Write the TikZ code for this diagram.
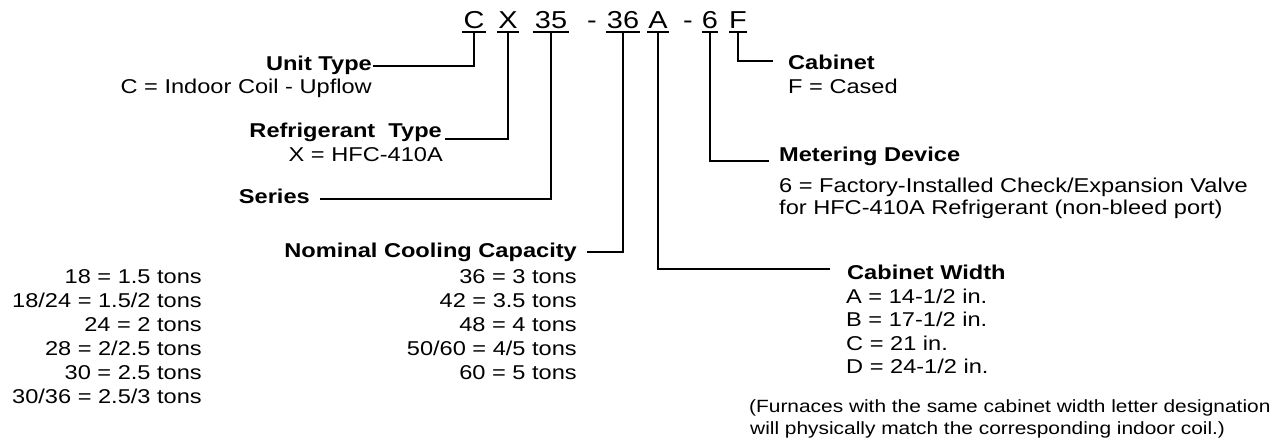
\documentclass[tikz,border=0pt]{standalone}
\usepackage{fontspec}
\setmainfont{Liberation Sans}[FakeStretch=1.18]
\begin{document}
\begin{tikzpicture}[x=1pt,y=-1pt,
  lbl/.style={font=\bfseries\fontsize{20}{24}\selectfont, inner sep=0pt},
  txt/.style={font=\fontsize{20}{24}\selectfont, inner sep=0pt},
  note/.style={font=\fontsize{17.7}{22}\selectfont, inner sep=0pt},
  code/.style={font=\fontsize{24.5}{29}\selectfont, inner sep=0pt, anchor=base, text depth=3pt},
  conn/.style={line width=1.6pt},
  uline/.style={line width=1.5pt}]
\useasboundingbox (0,0) rectangle (1277,441);
% code letters
\node[code, minimum width=23pt] (cC) at (474,29) {C};
\node[code, minimum width=22pt] (cX) at (508,29) {X};
\node[code, minimum width=36pt] (c35) at (551,29) {35};
\node[code] (h1) at (592,29) {-};
\node[code, minimum width=33pt] (c36) at (623,29) {36};
\node[code, minimum width=21pt] (cA) at (658,29) {A};
\node[code] (h2) at (688,29) {-};
\node[code, minimum width=16pt] (c6) at (710,29) {6};
\node[code, minimum width=18pt] (cF) at (738,29) {F};
\foreach \n in {cC,cX,c35,c36,cA,c6,cF}
  \draw[uline] (\n.south west) -- (\n.south east);
% Unit type
\node[lbl, anchor=base east] (ut) at (372,71) {Unit Type};
\node[txt, anchor=base east] (utd) at (372,94) {C = Indoor Coil - Upflow};
\coordinate (utE) at (373,66);
\draw[conn] (cC.south) |- (utE);
% Refrigerant type
\node[lbl, anchor=base east] (rt) at (442,138) {Refrigerant\ \ Type};
\node[txt, anchor=base east] (rtd) at (443,161) {X = HFC-410A};
\coordinate (rtE) at (445,139);
\draw[conn] (cX.south) |- (rtE);
% Series
\node[lbl, anchor=base east] (sr) at (310,203) {Series};
\coordinate (srE) at (320,199);
\draw[conn] (c35.south) |- (srE);
% Nominal cooling capacity
\node[lbl, anchor=base east] (ncc) at (577,257) {Nominal Cooling Capacity};
\coordinate (nccE) at (587,252);
\draw[conn] (c36.south) |- (nccE);
\node[txt, anchor=base east] (n1) at (577,283) {36 = 3 tons};
\node[txt, anchor=base east] (n2) at (577,307) {42 = 3.5 tons};
\node[txt, anchor=base east] (n3) at (577,331) {48 = 4 tons};
\node[txt, anchor=base east] (n4) at (577,355) {50/60 = 4/5 tons};
\node[txt, anchor=base east] (n5) at (577,379) {60 = 5 tons};
% left list
\node[txt, anchor=base east] (l1) at (202,283) {18 = 1.5 tons};
\node[txt, anchor=base east] (l2) at (202,307) {18/24 = 1.5/2 tons};
\node[txt, anchor=base east] (l3) at (202,331) {24 = 2 tons};
\node[txt, anchor=base east] (l4) at (202,355) {28 = 2/2.5 tons};
\node[txt, anchor=base east] (l5) at (202,379) {30 = 2.5 tons};
\node[txt, anchor=base east] (l6) at (202,403) {30/36 = 2.5/3 tons};
% Cabinet width
\coordinate (cwW) at (830,269);
\draw[conn] (cA.south) |- (cwW);
\node[lbl, anchor=base west] (cw) at (847,279) {Cabinet Width};
\node[txt, anchor=base west] (w1) at (846,303) {A = 14-1/2 in.};
\node[txt, anchor=base west] (w2) at (846,326.5) {B = 17-1/2 in.};
\node[txt, anchor=base west] (w3) at (846,350) {C = 21 in.};
\node[txt, anchor=base west] (w4) at (846,373.5) {D = 24-1/2 in.};
\node[note, anchor=base west] (f1) at (749,412) {(Furnaces with the same cabinet width letter designation};
\node[note, anchor=base west] (f2) at (750,434) {will physically match the corresponding indoor coil.)};
% Metering device
\coordinate (mdW) at (769,161);
\draw[conn] (c6.south) |- (mdW);
\node[lbl, anchor=base west] (md) at (779,161) {Metering Device};
\node[txt, anchor=base west] (md1) at (779,192) {6 = Factory-Installed Check/Expansion Valve};
\node[txt, anchor=base west] (md2) at (779,214) {for HFC-410A Refrigerant (non-bleed port)};
% Cabinet
\coordinate (cabW) at (773,61);
\draw[conn] (cF.south) |- (cabW);
\node[lbl, anchor=base west] (cab) at (788,70) {Cabinet};
\node[txt, anchor=base west] (cabd) at (788,94) {F = Cased};
\end{tikzpicture}
\end{document}
